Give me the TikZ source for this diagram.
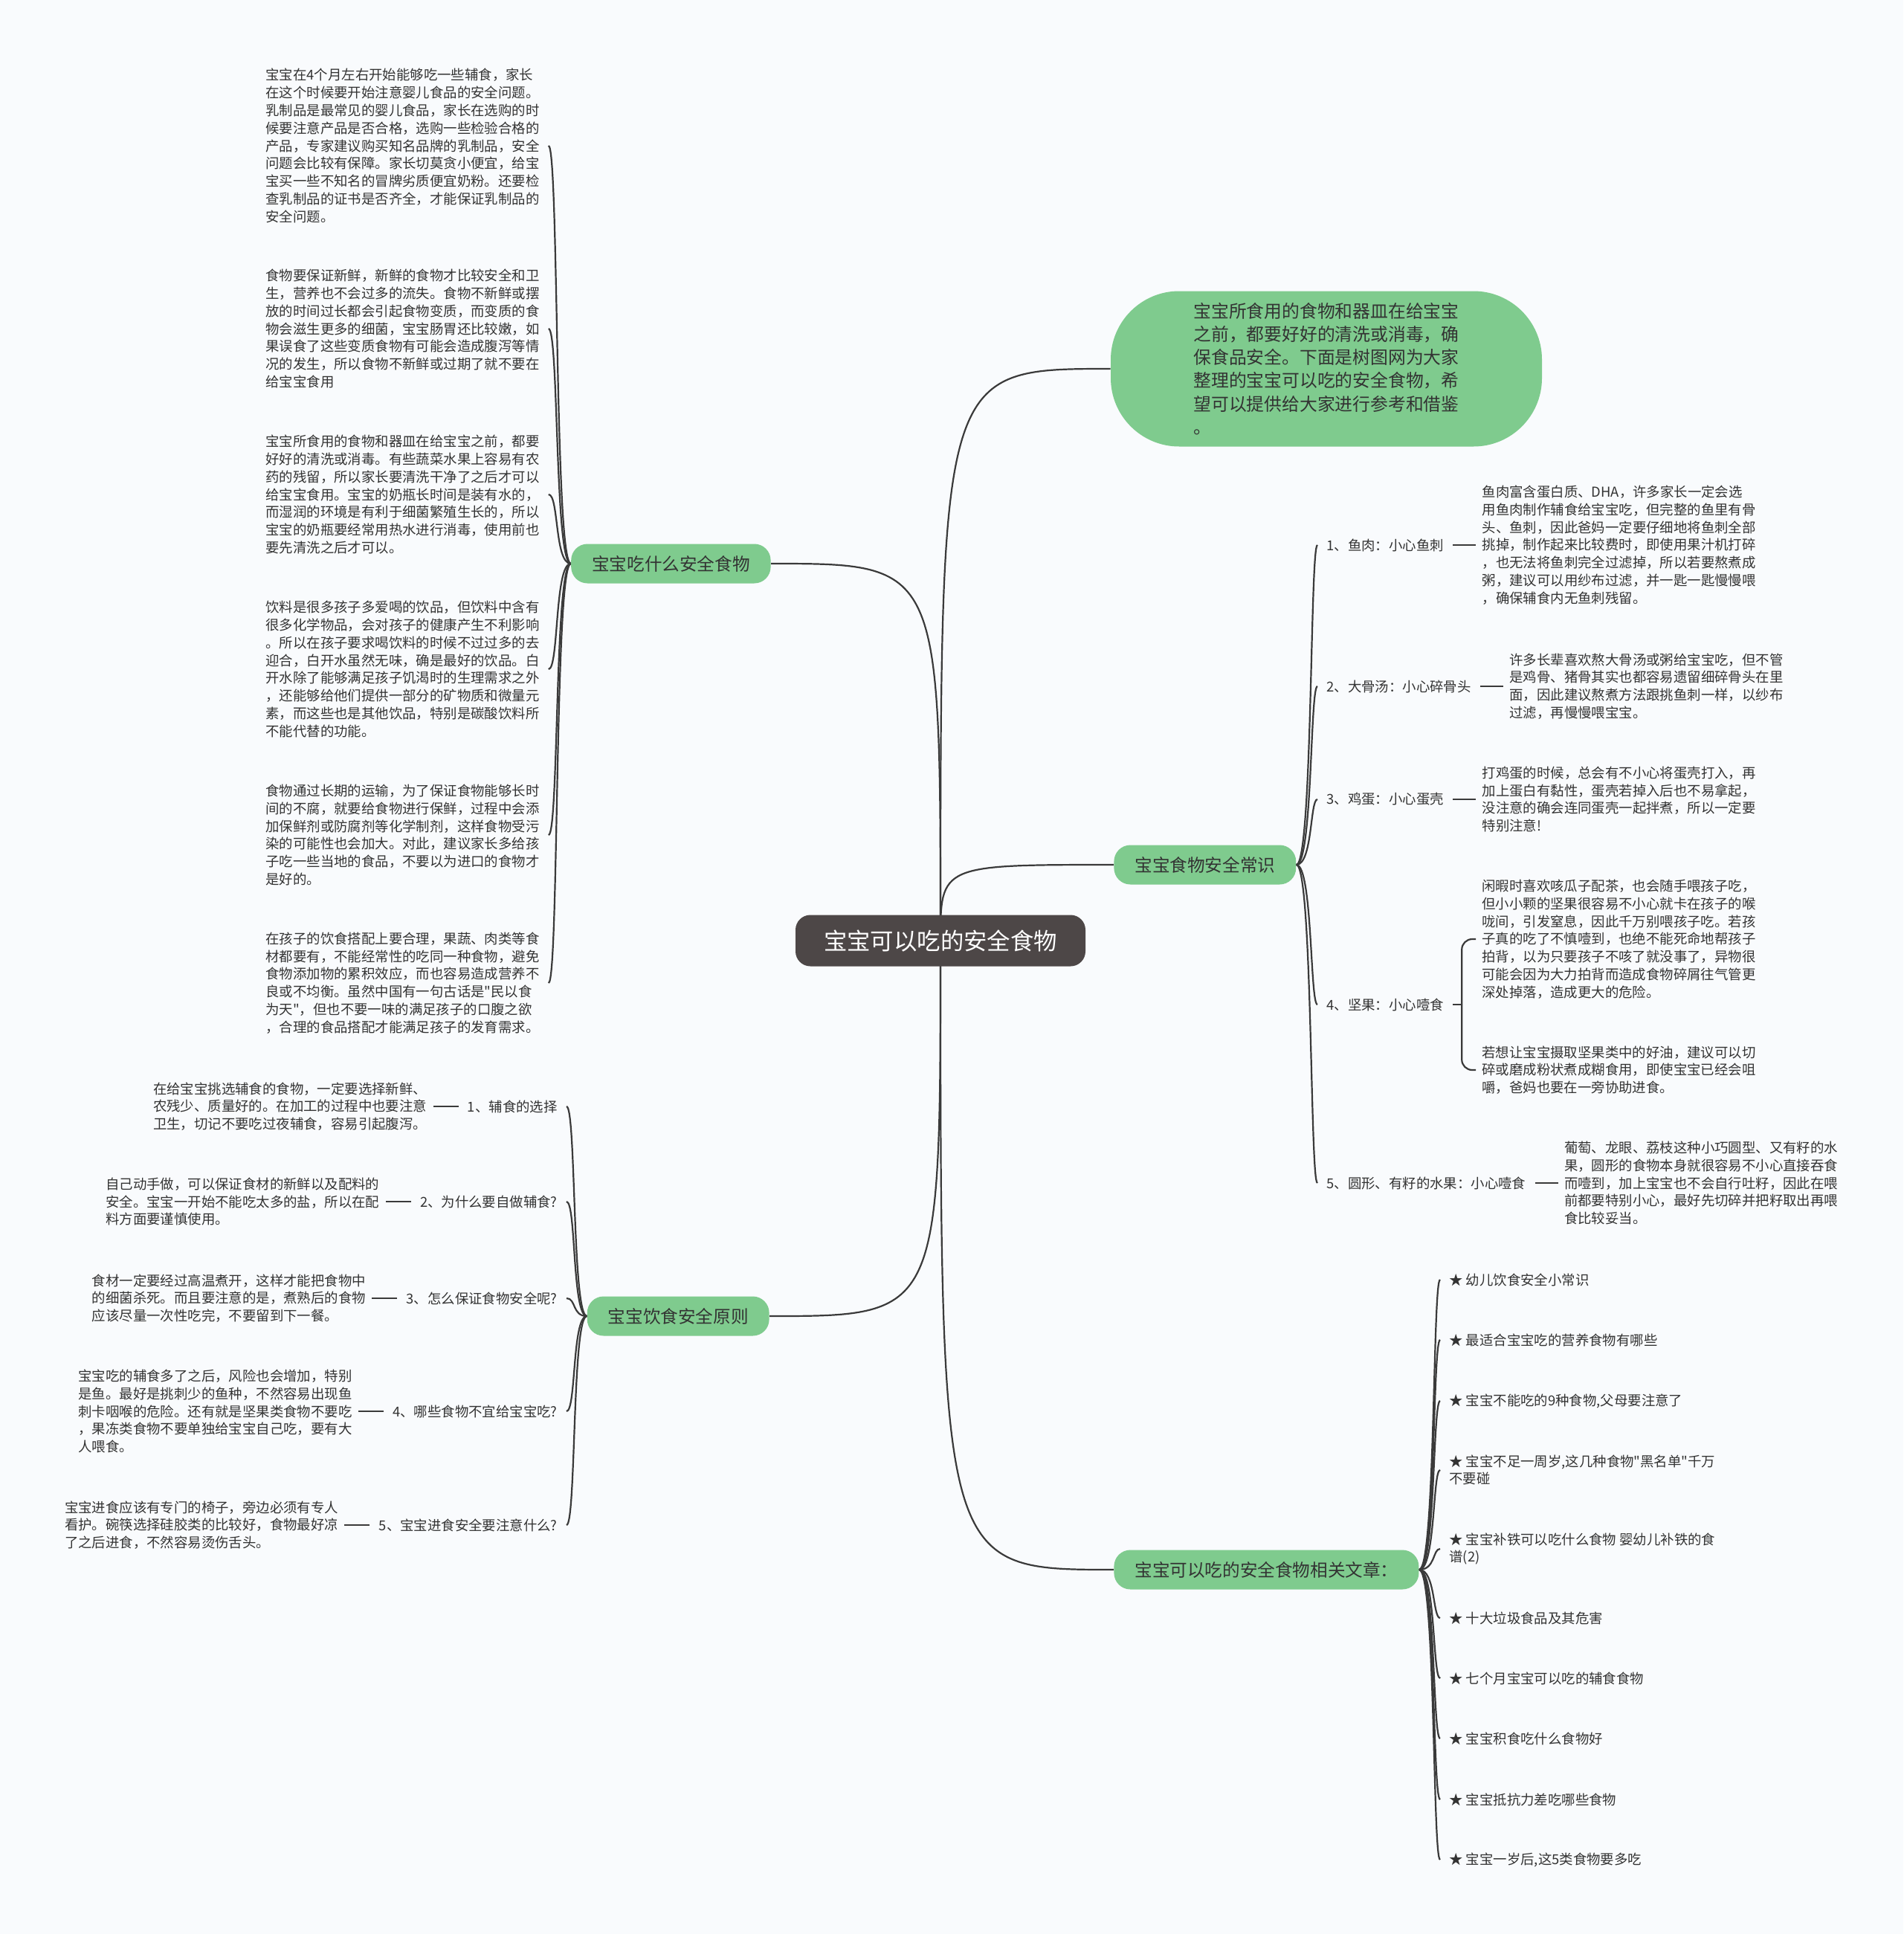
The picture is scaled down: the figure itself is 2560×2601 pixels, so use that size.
\documentclass[tikz,border=0pt]{standalone}
\usepackage{fontspec}
\setmainfont{Noto Sans CJK SC}[Ligatures=TeXOff]
\usetikzlibrary{positioning}
\definecolor{bgc}{RGB}{249,251,253}
\definecolor{grn}{RGB}{127,203,142}
\definecolor{rootc}{RGB}{77,71,71}
\definecolor{linec}{RGB}{58,58,58}
\definecolor{txt}{RGB}{51,51,51}
\pgfdeclarelayer{bgl}
\pgfdeclarelayer{edges}
\pgfsetlayers{bgl,edges,main}
\hfuzz=200pt \hbadness=10000
\tikzset{
  conn/.style={draw=linec, line width=1.1pt},
  rootbox/.style={fill=rootc, text=white, rounded corners=10pt, minimum width=195pt, minimum height=34.5pt, inner sep=0pt, font=\fontsize{15.7pt}{18pt}\selectfont},
  topic/.style={fill=grn, text=txt, rounded corners=11pt, minimum height=26.5pt, inner xsep=14pt, inner ysep=0pt, font=\fontsize{11.8pt}{14pt}\selectfont},
  bubble/.style={fill=grn, text=txt, rounded corners=46pt, minimum width=290pt, minimum height=104.5pt, inner sep=0pt, align=left, text width=178.5pt, font=\fontsize{11.9pt}{15.6pt}\selectfont},
  block/.style={text=txt, align=left, text width=184pt, inner xsep=4pt, inner ysep=2pt, font=\fontsize{9.2pt}{11.9pt}\selectfont},
  lbl/.style={text=txt, inner xsep=6pt, inner ysep=2pt, font=\fontsize{9.2pt}{11.9pt}\selectfont},
}
\begin{document}
\begin{tikzpicture}[x=0.5pt, y=-0.5pt]
\useasboundingbox (0,0) rectangle (2560,2601);
\begin{pgfonlayer}{bgl}
\fill[bgc] (0,0) rectangle (2560,2601);
\end{pgfonlayer}

% root and main topics
\node[rootbox] (root) at (1265,1265) {宝宝可以吃的安全食物};
\node[topic, anchor=east] (t1) at (1037,758) {宝宝吃什么安全食物};
\node[topic, anchor=east] (t2) at (1035,1770) {宝宝饮食安全原则};
\node[bubble] (bub) at (1784,496) {宝宝所食用的食物和器皿在给宝宝\\之前，都要好好的清洗或消毒，确\\保食品安全。下面是树图网为大家\\整理的宝宝可以吃的安全食物，希\\望可以提供给大家进行参考和借鉴\\。};
\node[topic, anchor=west] (t3) at (1498,1163) {宝宝食物安全常识};
\node[topic, anchor=west] (t4) at (1498,2111) {宝宝可以吃的安全食物相关文章：};

% left top blocks
\node[block, anchor=west, inner xsep=6pt] (b1) at (345,196) {宝宝在4个月左右开始能够吃一些辅食，家长\\在这个时候要开始注意婴儿食品的安全问题。\\乳制品是最常见的婴儿食品，家长在选购的时\\候要注意产品是否合格，选购一些检验合格的\\产品，专家建议购买知名品牌的乳制品，安全\\问题会比较有保障。家长切莫贪小便宜，给宝\\宝买一些不知名的冒牌劣质便宜奶粉。还要检\\查乳制品的证书是否齐全，才能保证乳制品的\\安全问题。};
\node[block, anchor=west, inner xsep=6pt] (b2) at (345,442) {食物要保证新鲜，新鲜的食物才比较安全和卫\\生，营养也不会过多的流失。食物不新鲜或摆\\放的时间过长都会引起食物变质，而变质的食\\物会滋生更多的细菌，宝宝肠胃还比较嫩，如\\果误食了这些变质食物有可能会造成腹泻等情\\况的发生，所以食物不新鲜或过期了就不要在\\给宝宝食用};
\node[block, anchor=west, inner xsep=6pt] (b3) at (345,665) {宝宝所食用的食物和器皿在给宝宝之前，都要\\好好的清洗或消毒。有些蔬菜水果上容易有农\\药的残留，所以家长要清洗干净了之后才可以\\给宝宝食用。宝宝的奶瓶长时间是装有水的，\\而湿润的环境是有利于细菌繁殖生长的，所以\\宝宝的奶瓶要经常用热水进行消毒，使用前也\\要先清洗之后才可以。};
\node[block, anchor=west, inner xsep=6pt] (b4) at (345,900) {饮料是很多孩子多爱喝的饮品，但饮料中含有\\很多化学物品，会对孩子的健康产生不利影响\\。所以在孩子要求喝饮料的时候不过过多的去\\迎合，白开水虽然无味，确是最好的饮品。白\\开水除了能够满足孩子饥渴时的生理需求之外\\，还能够给他们提供一部分的矿物质和微量元\\素，而这些也是其他饮品，特别是碳酸饮料所\\不能代替的功能。};
\node[block, anchor=west, inner xsep=6pt] (b5) at (345,1123) {食物通过长期的运输，为了保证食物能够长时\\间的不腐，就要给食物进行保鲜，过程中会添\\加保鲜剂或防腐剂等化学制剂，这样食物受污\\染的可能性也会加大。对此，建议家长多给孩\\子吃一些当地的食品，不要以为进口的食物才\\是好的。};
\node[block, anchor=west, inner xsep=6pt] (b6) at (345,1322) {在孩子的饮食搭配上要合理，果蔬、肉类等食\\材都要有，不能经常性的吃同一种食物，避免\\食物添加物的累积效应，而也容易造成营养不\\良或不均衡。虽然中国有一句古话是"民以食\\为天"，但也不要一味的满足孩子的口腹之欲\\，合理的食品搭配才能满足孩子的发育需求。};

% bottom left
\node[lbl, anchor=east] (q1) at (762,1488) {1、辅食的选择};
\node[lbl, anchor=east] (q2) at (762,1616) {2、为什么要自做辅食?};
\node[lbl, anchor=east] (q3) at (762,1746) {3、怎么保证食物安全呢?};
\node[lbl, anchor=east] (q4) at (762,1898) {4、哪些食物不宜给宝宝吃?};
\node[lbl, anchor=east] (q5) at (762,2051) {5、宝宝进食安全要注意什么?};
\node[block, left=17pt of q1] (qb1) {在给宝宝挑选辅食的食物，一定要选择新鲜、\\农残少、质量好的。在加工的过程中也要注意\\卫生，切记不要吃过夜辅食，容易引起腹泻。};
\node[block, left=17pt of q2] (qb2) {自己动手做，可以保证食材的新鲜以及配料的\\安全。宝宝一开始不能吃太多的盐，所以在配\\料方面要谨慎使用。};
\node[block, left=17pt of q3] (qb3) {食材一定要经过高温煮开，这样才能把食物中\\的细菌杀死。而且要注意的是，煮熟后的食物\\应该尽量一次性吃完，不要留到下一餐。};
\node[block, left=17pt of q4] (qb4) {宝宝吃的辅食多了之后，风险也会增加，特别\\是鱼。最好是挑刺少的鱼种，不然容易出现鱼\\刺卡咽喉的危险。还有就是坚果类食物不要吃\\，果冻类食物不要单独给宝宝自己吃，要有大\\人喂食。};
\node[block, left=17pt of q5] (qb5) {宝宝进食应该有专门的椅子，旁边必须有专人\\看护。碗筷选择硅胶类的比较好，食物最好凉\\了之后进食，不然容易烫伤舌头。};

% right knowledge
\node[lbl, anchor=west] (k1) at (1772,733) {1、鱼肉：小心鱼刺};
\node[lbl, anchor=west] (k2) at (1772,923) {2、大骨汤：小心碎骨头};
\node[lbl, anchor=west] (k3) at (1772,1075) {3、鸡蛋：小心蛋壳};
\node[lbl, anchor=west] (k4) at (1772,1351) {4、坚果：小心噎食};
\node[lbl, anchor=west] (k5) at (1772,1591) {5、圆形、有籽的水果：小心噎食};
\node[block, right=15.5pt of k1] (kb1) {鱼肉富含蛋白质、DHA，许多家长一定会选\\用鱼肉制作辅食给宝宝吃，但完整的鱼里有骨\\头、鱼刺，因此爸妈一定要仔细地将鱼刺全部\\挑掉，制作起来比较费时，即使用果汁机打碎\\，也无法将鱼刺完全过滤掉，所以若要熬煮成\\粥，建议可以用纱布过滤，并一匙一匙慢慢喂\\，确保辅食内无鱼刺残留。};
\node[block, right=15.5pt of k2] (kb2) {许多长辈喜欢熬大骨汤或粥给宝宝吃，但不管\\是鸡骨、猪骨其实也都容易遗留细碎骨头在里\\面，因此建议熬煮方法跟挑鱼刺一样，以纱布\\过滤，再慢慢喂宝宝。};
\node[block, right=15.5pt of k3] (kb3) {打鸡蛋的时候，总会有不小心将蛋壳打入，再\\加上蛋白有黏性，蛋壳若掉入后也不易拿起，\\没注意的确会连同蛋壳一起拌煮，所以一定要\\特别注意!};
\node[block, anchor=west] (kb4a) at (1985,1263) {闲暇时喜欢咳瓜子配茶，也会随手喂孩子吃，\\但小小颗的坚果很容易不小心就卡在孩子的喉\\咙间，引发窒息，因此千万别喂孩子吃。若孩\\子真的吃了不慎噎到，也绝不能死命地帮孩子\\拍背，以为只要孩子不咳了就没事了，异物很\\可能会因为大力拍背而造成食物碎屑往气管更\\深处掉落，造成更大的危险。};
\node[block, anchor=west] (kb4b) at (1985,1439) {若想让宝宝摄取坚果类中的好油，建议可以切\\碎或磨成粉状煮成糊食用，即使宝宝已经会咀\\嚼，爸妈也要在一旁协助进食。};
\node[block, right=15.5pt of k5] (kb5) {葡萄、龙眼、荔枝这种小巧圆型、又有籽的水\\果，圆形的食物本身就很容易不小心直接吞食\\而噎到，加上宝宝也不会自行吐籽，因此在喂\\前都要特别小心，最好先切碎并把籽取出再喂\\食比较妥当。};

% articles
\node[lbl, anchor=west] (a1) at (1937,1721) {★ 幼儿饮食安全小常识};
\node[lbl, anchor=west] (a2) at (1937,1802) {★ 最适合宝宝吃的营养食物有哪些};
\node[lbl, anchor=west] (a3) at (1937,1884) {★ 宝宝不能吃的9种食物,父母要注意了};
\node[lbl, anchor=west, align=left] (a4) at (1937,1977) {★ 宝宝不足一周岁,这几种食物"黑名单"千万\\不要碰};
\node[lbl, anchor=west, align=left] (a5) at (1937,2083) {★ 宝宝补铁可以吃什么食物 婴幼儿补铁的食\\谱(2)};
\node[lbl, anchor=west] (a6) at (1937,2176) {★ 十大垃圾食品及其危害};
\node[lbl, anchor=west] (a7) at (1937,2257) {★ 七个月宝宝可以吃的辅食食物};
\node[lbl, anchor=west] (a8) at (1937,2338) {★ 宝宝积食吃什么食物好};
\node[lbl, anchor=west] (a9) at (1937,2420) {★ 宝宝抵抗力差吃哪些食物};
\node[lbl, anchor=west] (a10) at (1937,2501) {★ 宝宝一岁后,这5类食物要多吃};

\begin{pgfonlayer}{edges}
% root to topics
\draw[conn] (root.center) .. controls (root.center |- t1.east) .. (t1.east);
\draw[conn] (root.center) .. controls (root.center |- t2.east) .. (t2.east);
\draw[conn] (root.center) .. controls (root.center |- bub.west) .. (bub.west);
\draw[conn] (root.center) .. controls (root.center |- t3.west) .. (t3.west);
\draw[conn] (root.center) .. controls (root.center |- t4.west) .. (t4.west);
% t1 children
\foreach \c in {b1,b2,b3,b4,b5,b6}
  \draw[conn] (t1.west) .. controls +(-22,0) and +(14,0) .. (\c.east);
% t2 children
\foreach \c in {q1,q2,q3,q4,q5}
  \draw[conn] (t2.west) .. controls +(-20,0) and +(13,0) .. (\c.east);
\draw[conn] (q1.west) -- (qb1.east);
\draw[conn] (q2.west) -- (qb2.east);
\draw[conn] (q3.west) -- (qb3.east);
\draw[conn] (q4.west) -- (qb4.east);
\draw[conn] (q5.west) -- (qb5.east);
% t3 children
\foreach \c in {k1,k2,k3,k4,k5}
  \draw[conn] (t3.east) .. controls +(22,0) and +(-10,0) .. (\c.west);
\draw[conn] (k1.east) -- (kb1.west);
\draw[conn] (k2.east) -- (kb2.west);
\draw[conn] (k3.east) -- (kb3.west);
\draw[conn] (k5.east) -- (kb5.west);
\draw[conn] (k4.east) -- ++(12,0) coordinate (k4j);
\draw[conn, rounded corners=7pt] (k4j) |- (kb4a.west);
\draw[conn, rounded corners=7pt] (k4j) |- (kb4b.west);
% t4 children
\foreach \c in {a1,a2,a3,a4,a5,a6,a7,a8,a9,a10}
  \draw[conn] (t4.east) .. controls +(22,0) and +(-10,0) .. (\c.west);
\end{pgfonlayer}
\end{tikzpicture}
\end{document}
